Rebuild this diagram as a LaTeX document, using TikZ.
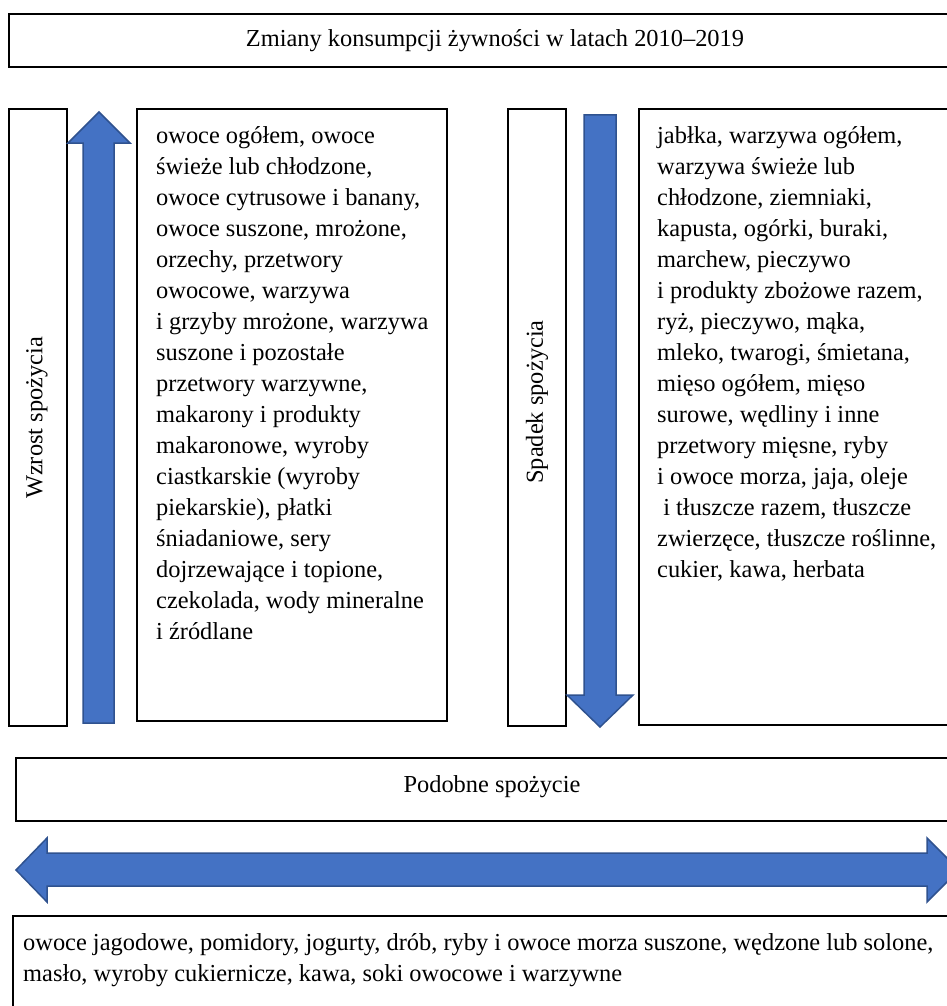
\documentclass[tikz,border=0pt]{standalone}
\usepackage{fontspec}
\setmainfont{Liberation Serif}
\definecolor{arrfill}{RGB}{68,114,196}
\definecolor{arrdraw}{RGB}{47,82,143}
\tikzset{
  frame/.style={draw=black, line width=1.6pt, fill=white},
  bigarrow/.style={fill=arrfill, draw=arrdraw, line width=1.5pt, line join=miter},
  txt/.style={font=\fontsize{24.4}{31}\selectfont, inner sep=0pt},
  body/.style={txt, anchor=north west, align=left}
}
\begin{document}
\begin{tikzpicture}[x=1pt,y=-1pt]
\useasboundingbox (0,0) rectangle (947,1006);
\clip (0,0) rectangle (947,1006);
% title
\draw[frame] (9,14) rectangle (980,67);
\node[txt] (title) at (495,41) {Zmiany konsumpcji żywności w latach 2010–2019};
% left label box
\draw[frame] (9,109) rectangle (67,726);
\node[txt, rotate=90] (wzrost) at (37,418) {Wzrost spożycia};
% up arrow
\draw[bigarrow] (83,723) -- (83,143) -- (68,143) -- (99,112) -- (130,143) -- (114,143) -- (114,723) -- cycle;
% left text box
\draw[frame] (137,109) rectangle (447,721);
\node[body] (ltext) at (156,126.5) {owoce ogółem, owoce\\
świeże lub chłodzone,\\
owoce cytrusowe i banany,\\
owoce suszone, mrożone,\\
orzechy, przetwory\\
owocowe, warzywa\\
i grzyby mrożone, warzywa\\
suszone i pozostałe\\
przetwory warzywne,\\
makarony i produkty\\
makaronowe, wyroby\\
ciastkarskie (wyroby\\
piekarskie), płatki\\
śniadaniowe, sery\\
dojrzewające i topione,\\
czekolada, wody mineralne\\
i źródlane};
% middle label box
\draw[frame] (508,109) rectangle (566,726);
\node[txt, rotate=90] (spadek) at (537,402) {Spadek spożycia};
% down arrow
\draw[bigarrow] (584,115) -- (616,115) -- (616,695) -- (633,695) -- (600,727) -- (567,695) -- (584,695) -- cycle;
% right text box
\draw[frame] (639,109) rectangle (980,725);
\node[body] (rtext) at (657,126.5) {jabłka, warzywa ogółem,\\
warzywa świeże lub\\
chłodzone, ziemniaki,\\
kapusta, ogórki, buraki,\\
marchew, pieczywo\\
i produkty zbożowe razem,\\
ryż, pieczywo, mąka,\\
mleko, twarogi, śmietana,\\
mięso ogółem, mięso\\
surowe, wędliny i inne\\
przetwory mięsne, ryby\\
i owoce morza, jaja, oleje\\
\ i tłuszcze razem, tłuszcze\\
zwierzęce, tłuszcze roślinne,\\
cukier, kawa, herbata};
% similar
\draw[frame] (16,758) rectangle (980,821);
\node[txt] (podobne) at (492,787) {Podobne spożycie};
% double arrow
\draw[bigarrow] (16,870) -- (47,838) -- (47,853) -- (927,853) -- (927,838) -- (959,870) -- (927,902) -- (927,886) -- (47,886) -- (47,902) -- cycle;
% bottom box
\draw[frame] (13,916) rectangle (980,1020);
\node[body] (btext) at (23,933) {owoce jagodowe, pomidory, jogurty, drób, ryby i owoce morza suszone, wędzone lub solone,\\
masło, wyroby cukiernicze, kawa, soki owocowe i warzywne};
\end{tikzpicture}
\end{document}
